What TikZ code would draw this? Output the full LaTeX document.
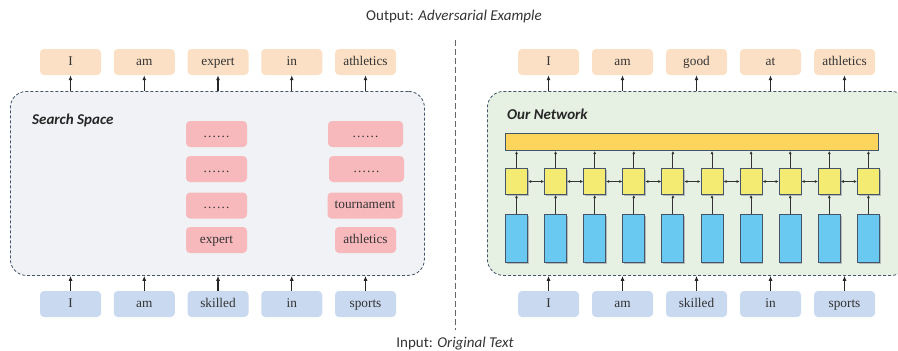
\documentclass[tikz,border=0pt]{standalone}
\usepackage{fontspec}
\setmainfont{Liberation Serif}
\newfontfamily\carlito{Carlito}
\usetikzlibrary{arrows.meta,shadows}
\definecolor{topc}{HTML}{FCE0C5}
\definecolor{botc}{HTML}{C9D9EF}
\definecolor{pinkc}{HTML}{F8B9BD}
\definecolor{lpan}{HTML}{F0F2F5}
\definecolor{rpan}{HTML}{E6F0E3}
\definecolor{edgec}{HTML}{44546A}
\definecolor{barc}{HTML}{FDD55C}
\definecolor{yelc}{HTML}{F4EC72}
\definecolor{bluc}{HTML}{69C9F1}
\definecolor{txtc}{HTML}{333333}
\tikzset{
 word/.style={rounded corners=4pt, minimum width=61pt, minimum height=26pt, inner sep=0pt, text height=9pt, text depth=3pt, font=\fontsize{13.3}{15}\selectfont, text=txtc},
 outw/.style={word, fill=topc},
 inw/.style={word, fill=botc},
 candw/.style={word, fill=pinkc},
 panel/.style={draw=edgec, dash pattern=on 3pt off 2pt, rounded corners=16pt, line width=0.8pt, inner sep=0pt},
 arr/.style={-{Latex[length=5pt,width=4pt]}, line width=1.3pt, draw=black!85},
 sarr/.style={-{Latex[length=3pt,width=3pt]}, line width=0.9pt, draw=black!80},
 darr/.style={{Latex[length=3pt,width=3pt]}-{Latex[length=3pt,width=3pt]}, line width=0.9pt, draw=black!80},
 cell/.style={draw=edgec, line width=1pt, minimum width=22pt, inner sep=0pt, anchor=north west,
   drop shadow={shadow xshift=1.2pt, shadow yshift=-1.2pt, fill=black!40, opacity=0.6}},
 lbl/.style={font=\carlito\fontsize{15}{17}\selectfont, text=txtc, inner sep=0pt},
 ttl/.style={font=\carlito\bfseries\itshape\fontsize{15}{17}\selectfont, text=black!85, inner sep=0pt, anchor=west},
}
\begin{document}
\begin{tikzpicture}[x=1pt,y=-1pt]
\clip (0,0) rectangle (898,351);
% labels
\node[lbl] (outlbl) at (454,16) {Output: \textit{Adversarial Example}};
\node[lbl] (inlbl) at (455,344) {Input: \textit{Original Text}};
% divider
\coordinate (dv1) at (455,40);
\coordinate (dv2) at (455,330);
\draw[dash pattern=on 6pt off 3pt, draw=black!60, line width=0.8pt] (dv1) -- (dv2);
% left panel
\node[panel, fill=lpan, minimum width=414pt, minimum height=184pt, anchor=north west] (lpanel) at (10,91) {};
\node[ttl] (lttl) at (32,120) {Search Space};
% right panel
\node[panel, fill=rpan, minimum width=420pt, minimum height=184pt, anchor=north west] (rpanel) at (487,91) {};
\node[ttl] (rttl) at (507,114) {Our Network};
% left words
\foreach \w [count=\i] in {I,am,expert,in,athletics}{
  \node[outw] (lt\i) at ({70.5+(\i-1)*73.75},62) {\w};
  \draw[arr] (lt\i.south |- lpanel.north) -- (lt\i.south);
}
\foreach \w [count=\i] in {I,am,skilled,in,sports}{
  \node[inw] (lb\i) at ({70.5+(\i-1)*73.75},304) {\w};
  \draw[arr] (lb\i.north) -- (lb\i.north |- lpanel.south);
}
% candidates
\node[candw] (c11) at (216.5,134) {……};
\node[candw] (c12) at (216.5,169) {……};
\node[candw] (c13) at (216.5,205.5) {……};
\node[candw] (c14) at (216.5,240) {expert};
\node[candw, minimum width=75pt] (c21) at (365.5,134) {……};
\node[candw, minimum width=75pt] (c22) at (366.5,169) {……};
\node[candw, minimum width=75pt] (c23) at (365,205.5) {tournament};
\node[candw] (c24) at (365.5,240) {athletics};
% right words
\foreach \w [count=\i] in {I,am,good,at,athletics}{
  \node[outw] (rt\i) at ({548.5+(\i-1)*74},62) {\w};
  \draw[arr] (rt\i.south |- rpanel.north) -- (rt\i.south);
}
\foreach \w [count=\i] in {I,am,skilled,in,sports}{
  \node[inw] (rb\i) at ({548.5+(\i-1)*74},304) {\w};
  \draw[arr] (rb\i.north) -- (rb\i.north |- rpanel.south);
}
% network
\node[draw=edgec, line width=1pt, fill=barc, minimum width=373pt, minimum height=17pt, inner sep=0pt, anchor=north west] (bar) at (505,133) {};
\foreach \i in {1,...,10}{
  \node[cell, fill=yelc, minimum height=26pt] (y\i) at ({505+(\i-1)*39.1},168) {};
  \node[cell, fill=bluc, minimum height=48pt] (b\i) at ({505+(\i-1)*39.1},214) {};
  \draw[sarr] (b\i.north) -- (y\i.south);
  \draw[sarr] (y\i.north) -- (y\i.north |- bar.south);
}
\foreach \i [evaluate=\i as \j using int(\i+1)] in {1,...,9}{
  \draw[darr] (y\i.east) -- (y\j.west);
}
\end{tikzpicture}
\end{document}
